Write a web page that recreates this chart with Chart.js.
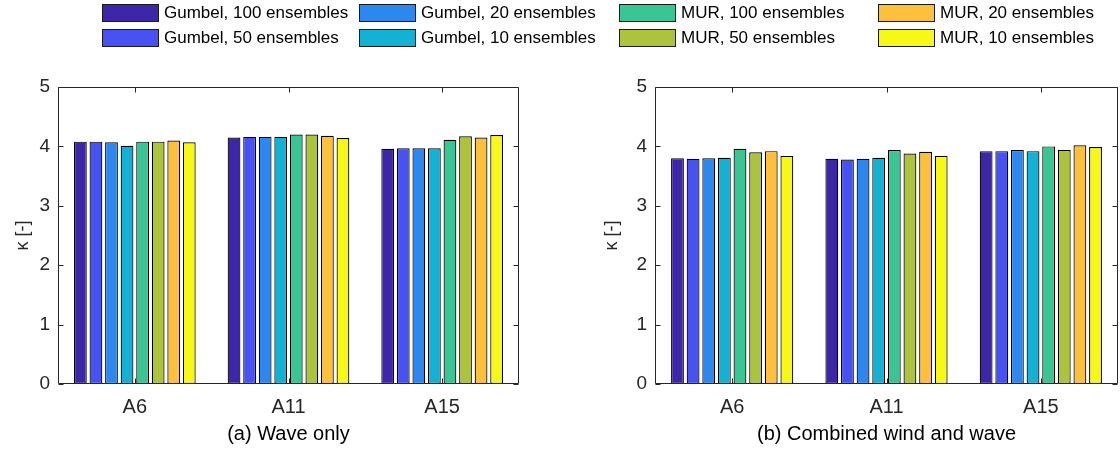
<!DOCTYPE html>
<html>
<head>
<meta charset="utf-8">
<script src="https://cdn.jsdelivr.net/npm/chart.js@4"></script>
<style>
  html, body { margin: 0; padding: 0; background: #fff; }
  body { width: 1120px; height: 452px; position: relative; overflow: hidden; font-family: "Liberation Sans", Arial, Helvetica, sans-serif; }
  .cw { position: absolute; top: 0; height: 452px; }
  .leg-item { position: absolute; height: 20px; display: flex; align-items: center; font-size: 17px; color: #000; white-space: nowrap; }
  .leg-box { width: 55px; height: 16px; border: 1px solid #1a1a1a; margin-right: 5px; box-sizing: content-box; }
</style>
</head>
<body>
<div class="cw" style="left:0;width:560px"><canvas id="c1" width="560" height="452"></canvas></div>
<div class="cw" style="left:589px;width:531px"><canvas id="c2" width="531" height="452"></canvas></div>
<div id="legend"></div>
<script>
// ---- data ----
const categories = ['A6', 'A11', 'A15'];
const seriesNames = [
  'Gumbel, 100 ensembles', 'Gumbel, 50 ensembles', 'Gumbel, 20 ensembles', 'Gumbel, 10 ensembles',
  'MUR, 100 ensembles', 'MUR, 50 ensembles', 'MUR, 20 ensembles', 'MUR, 10 ensembles'
];
const seriesColors = ['#3e26a8', '#4652f1', '#2c88ef', '#13b2d5', '#39c594', '#acc33b', '#fdc03b', '#f8f816'];
const yTicks = [0, 1, 2, 3, 4, 5];

// values per category, in series order
const waveA6  = [4.08, 4.08, 4.07, 4.01, 4.08, 4.08, 4.10, 4.07];
const waveA11 = [4.15, 4.16, 4.16, 4.16, 4.20, 4.20, 4.18, 4.14];
const waveA15 = [3.96, 3.97, 3.97, 3.97, 4.11, 4.17, 4.15, 4.19];
const combA6  = [3.80, 3.79, 3.80, 3.81, 3.96, 3.90, 3.92, 3.84];
const combA11 = [3.79, 3.78, 3.79, 3.81, 3.94, 3.88, 3.91, 3.84];
const combA15 = [3.92, 3.92, 3.94, 3.92, 4.00, 3.94, 4.02, 3.99];

const captionA = '(a) Wave only';
const captionB = '(b) Combined wind and wave';
const yLabel = 'κ [-]';

const FONT = '"Liberation Sans", Arial, Helvetica, sans-serif';
const AX = '#262626';

function buildDatasets(rows) {
  return seriesNames.map((name, s) => ({
    label: name,
    data: rows.map(r => r[s]),
    backgroundColor: seriesColors[s],
    borderColor: '#000',
    borderWidth: 1.2,
    borderSkipped: false,
    categoryPercentage: 0.81,
    barPercentage: 0.82
  }));
}

const framePlugin = {
  id: 'frame',
  afterDraw(chart) {
    const ctx = chart.ctx;
    const { left, right, top, bottom } = chart.chartArea;
    ctx.save();
    ctx.strokeStyle = AX;
    ctx.lineWidth = 1;
    const L = Math.round(left) + 0.5, R = Math.round(right) - 0.5;
    const T = Math.round(top) + 0.5, B = Math.round(bottom) - 0.5;
    ctx.beginPath();
    ctx.rect(L, T, R - L, B - T);
    const ys = chart.scales.y;
    ys.ticks.forEach(t => {
      const py = Math.round(ys.getPixelForValue(t.value)) + 0.5;
      ctx.moveTo(L, py); ctx.lineTo(L + 5, py);
      ctx.moveTo(R, py); ctx.lineTo(R - 5, py);
    });
    const xs = chart.scales.x;
    xs.ticks.forEach((t, i) => {
      const px = Math.round(xs.getPixelForTick(i)) + 0.5;
      ctx.moveTo(px, B); ctx.lineTo(px, B - 5);
      ctx.moveTo(px, T); ctx.lineTo(px, T + 5);
    });
    ctx.stroke();
    ctx.restore();
  }
};

function makeChart(id, rows, caption, yWidth, padRight) {
  return new Chart(document.getElementById(id), {
    type: 'bar',
    data: { labels: categories, datasets: buildDatasets(rows) },
    options: {
      responsive: false,
      animation: false,
      devicePixelRatio: 1,
      layout: { padding: { left: 0, right: padRight, top: 87, bottom: 0 } },
      plugins: { legend: { display: false }, tooltip: { enabled: false } },
      scales: {
        x: {
          type: 'category',
          offset: true,
          grid: { display: false, drawTicks: false },
          border: { display: false },
          ticks: { font: { family: FONT, size: 20 }, color: AX, padding: 11 },
          title: { display: true, text: caption, font: { family: FONT, size: 20 }, color: '#000', padding: { top: 0, bottom: 6 } },
          afterFit(scale) { scale.height = 68; }
        },
        y: {
          min: 0, max: 5,
          afterBuildTicks(scale) { scale.ticks = yTicks.map(v => ({ value: v })); },
          grid: { display: false, drawTicks: false },
          border: { display: false },
          ticks: { font: { family: FONT, size: 19 }, color: AX, padding: 8 },
          title: { display: true, text: yLabel, font: { family: FONT, size: 18 }, color: AX, padding: { top: 12, bottom: 0 } },
          afterFit(scale) { scale.width = yWidth; }
        }
      }
    },
    plugins: [framePlugin]
  });
}

makeChart('c1', [waveA6, waveA11, waveA15], captionA, 58, 41);
makeChart('c2', [combA6, combA11, combA15], captionB, 66, 2);

// ---- legend (column-major, 4 columns x 2 rows) ----
const legCols = [102, 359, 619, 878];
const legRows = [3, 28];
const legend = document.getElementById('legend');
seriesNames.forEach((name, i) => {
  const col = Math.floor(i / 2), row = i % 2;
  const item = document.createElement('div');
  item.className = 'leg-item';
  item.style.left = legCols[col] + 'px';
  item.style.top = legRows[row] + 'px';
  const box = document.createElement('div');
  box.className = 'leg-box';
  box.style.background = seriesColors[i];
  const txt = document.createElement('span');
  txt.textContent = name;
  item.appendChild(box);
  item.appendChild(txt);
  legend.appendChild(item);
});
</script>
</body>
</html>
